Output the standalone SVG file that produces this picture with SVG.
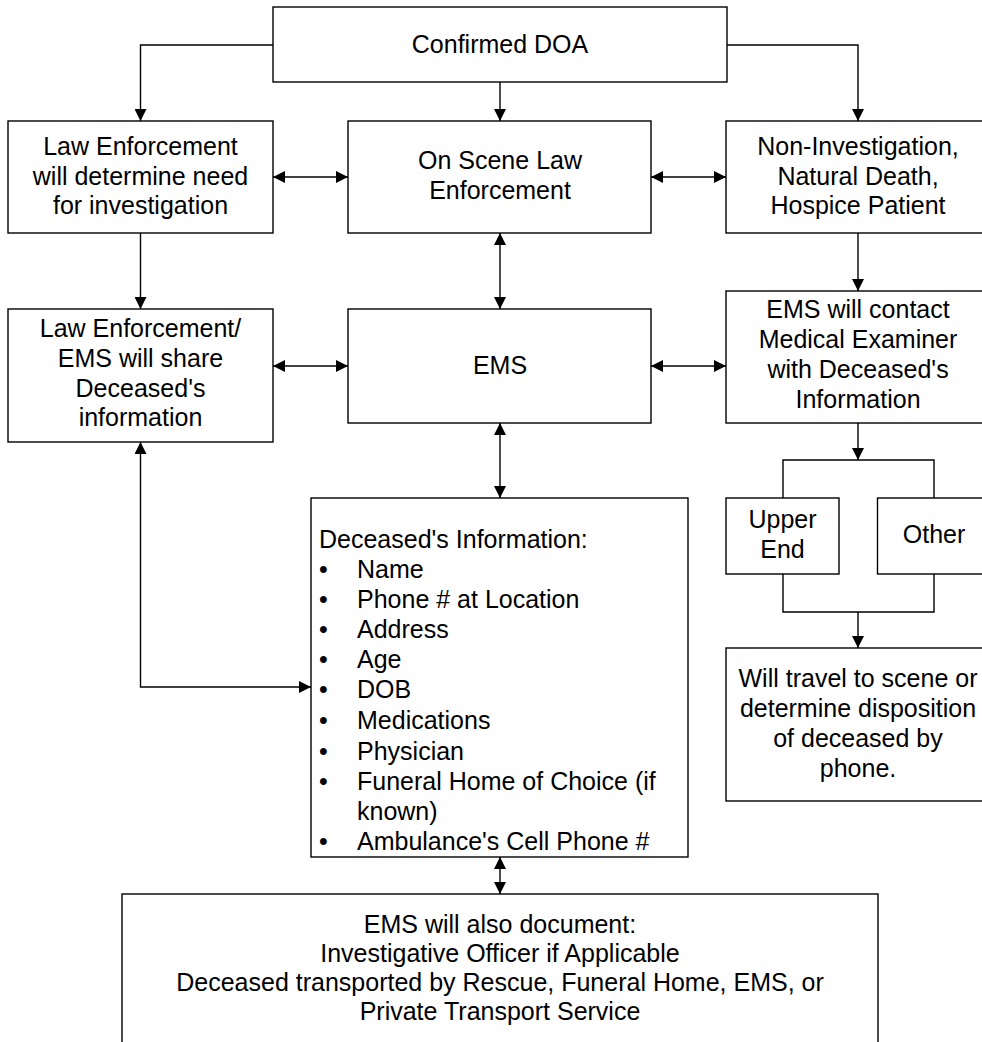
<svg xmlns="http://www.w3.org/2000/svg" width="982" height="1042" viewBox="0 0 982 1042">
<style>
.box{fill:#fff;stroke:#000;stroke-width:1.4}
.t{font-family:"Liberation Sans",Arial,sans-serif;font-size:25px;fill:#000;text-anchor:middle}
.l{font-family:"Liberation Sans",Arial,sans-serif;font-size:25px;fill:#000}
.c{fill:none;stroke:#000;stroke-width:1.4}
.a{marker-end:url(#ah)}
.d{marker-end:url(#ah);marker-start:url(#ah)}
</style>
<defs>
<marker id="ah" markerUnits="userSpaceOnUse" markerWidth="12" markerHeight="12" refX="12" refY="6" orient="auto-start-reverse" viewBox="0 0 12 12">
<path d="M0,0 L12,6 L0,12 z" fill="#000"/>
</marker>
</defs>
<rect width="982" height="1042" fill="#fff"/>
<g id="connectors">
<path class="c a" d="M273,45 H140.5 V121"/>
<path class="c a" d="M500,82 V121"/>
<path class="c a" d="M727,45 H858 V121"/>
<path class="c d" d="M273,177 H348"/>
<path class="c d" d="M651,177 H726"/>
<path class="c a" d="M140.5,233 V309"/>
<path class="c d" d="M500,233 V309"/>
<path class="c a" d="M858,233 V291"/>
<path class="c d" d="M273,366 H348"/>
<path class="c d" d="M651,366 H726"/>
<path class="c d" d="M140.5,442 V687 H311"/>
<path class="c d" d="M500,423 V498"/>
<path class="c a" d="M858,423 V460"/>
<path class="c" d="M783,498 V460 H934 V498"/>
<path class="c" d="M783,574 V612 H934 V574"/>
<path class="c a" d="M858,612 V648"/>
<path class="c d" d="M500,857 V894"/>
</g>
<g id="doa">
<rect class="box" x="273" y="7" width="454" height="75"/>
<text class="t" x="500" y="53">Confirmed DOA</text>
</g>
<g id="le-determine">
<rect class="box" x="8" y="121" width="265" height="112"/>
<text class="t" x="140.5" y="155">Law Enforcement</text>
<text class="t" x="140.5" y="185">will determine need</text>
<text class="t" x="140.5" y="214">for investigation</text>
</g>
<g id="on-scene">
<rect class="box" x="348" y="121" width="303" height="112"/>
<text class="t" x="500" y="169">On Scene Law</text>
<text class="t" x="500" y="199">Enforcement</text>
</g>
<g id="non-investigation">
<rect class="box" x="726" y="121" width="265" height="112"/>
<text class="t" x="858" y="155">Non-Investigation,</text>
<text class="t" x="858" y="185">Natural Death,</text>
<text class="t" x="858" y="214">Hospice Patient</text>
</g>
<g id="le-share">
<rect class="box" x="8" y="309" width="265" height="133"/>
<text class="t" x="140.5" y="337">Law Enforcement/</text>
<text class="t" x="140.5" y="367">EMS will share</text>
<text class="t" x="140.5" y="397">Deceased's</text>
<text class="t" x="140.5" y="426">information</text>
</g>
<g id="ems">
<rect class="box" x="348" y="309" width="303" height="114"/>
<text class="t" x="500" y="374">EMS</text>
</g>
<g id="ems-contact">
<rect class="box" x="726" y="291" width="265" height="132"/>
<text class="t" x="858" y="318">EMS will contact</text>
<text class="t" x="858" y="348">Medical Examiner</text>
<text class="t" x="858" y="378">with Deceased's</text>
<text class="t" x="858" y="408">Information</text>
</g>
<g id="deceased-info">
<rect class="box" x="311" y="498" width="377" height="359"/>
<text class="l" x="319" y="548">Deceased's Information:</text>
<g class="l">
<text x="319" y="578">•</text><text x="357" y="578">Name</text>
<text x="319" y="608">•</text><text x="357" y="608">Phone # at Location</text>
<text x="319" y="638">•</text><text x="357" y="638">Address</text>
<text x="319" y="668">•</text><text x="357" y="668">Age</text>
<text x="319" y="698">•</text><text x="357" y="698">DOB</text>
<text x="319" y="729">•</text><text x="357" y="729">Medications</text>
<text x="319" y="760">•</text><text x="357" y="760">Physician</text>
<text x="319" y="790">•</text><text x="357" y="790">Funeral Home of Choice (if</text>
<text x="357" y="820">known)</text>
<text x="319" y="850">•</text><text x="357" y="850">Ambulance's Cell Phone #</text>
</g>
</g>
<g id="upper-end">
<rect class="box" x="726" y="498" width="113" height="76"/>
<text class="t" x="782.5" y="528">Upper</text>
<text class="t" x="782.5" y="558">End</text>
</g>
<g id="other">
<rect class="box" x="877.5" y="498" width="113" height="76"/>
<text class="t" x="934" y="543">Other</text>
</g>
<g id="travel">
<rect class="box" x="726" y="648" width="265" height="153"/>
<text class="t" x="858" y="687">Will travel to scene or</text>
<text class="t" x="858" y="717">determine disposition</text>
<text class="t" x="858" y="747">of deceased by</text>
<text class="t" x="858" y="777">phone.</text>
</g>
<g id="ems-document">
<rect class="box" x="122" y="894" width="756" height="170"/>
<text class="t" x="500" y="933">EMS will also document:</text>
<text class="t" x="500" y="962">Investigative Officer if Applicable</text>
<text class="t" x="500" y="991">Deceased transported by Rescue, Funeral Home, EMS, or</text>
<text class="t" x="500" y="1020">Private Transport Service</text>
</g>
</svg>
